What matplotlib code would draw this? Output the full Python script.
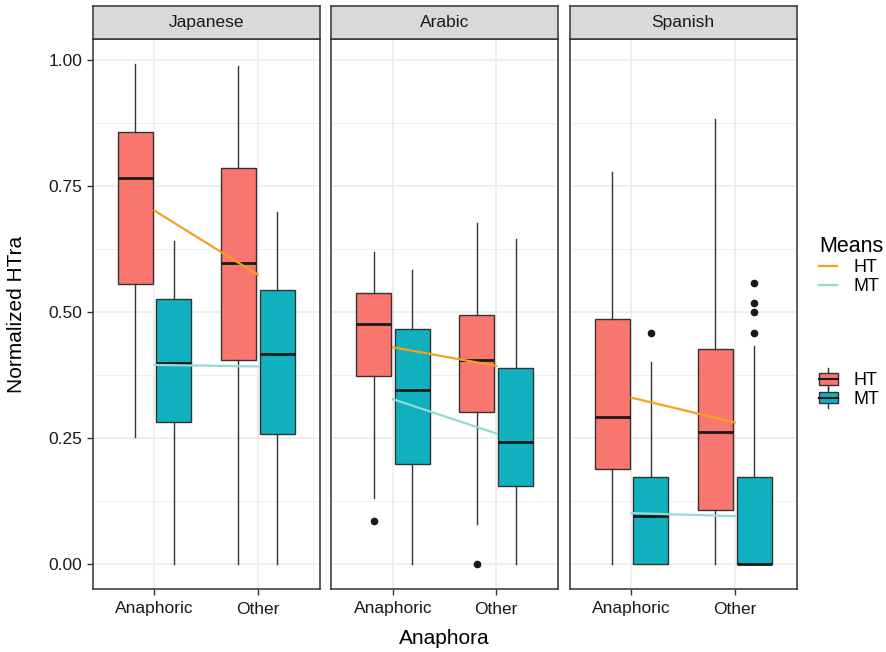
import matplotlib.pyplot as plt
from matplotlib.legend_handler import HandlerBase
from matplotlib.lines import Line2D
from matplotlib.patches import Rectangle, Patch

plt.rcParams['font.family'] = ['Liberation Sans', 'DejaVu Sans']

languages = ["Japanese", "Arabic", "Spanish"]
anaphora = ["Anaphoric", "Other"]
groups = ["HT", "MT"]

# five-number summaries per language: [whislo, q1, med, q3, whishi], order = HT-Anaphoric, MT-Anaphoric, HT-Other, MT-Other
stats_japanese = [[0.252, 0.556, 0.766, 0.858, 0.992],
                  [0.000, 0.282, 0.399, 0.525, 0.641],
                  [0.000, 0.404, 0.597, 0.786, 0.989],
                  [0.000, 0.257, 0.417, 0.543, 0.699]]
stats_arabic = [[0.130, 0.373, 0.477, 0.538, 0.620],
                [0.000, 0.198, 0.346, 0.467, 0.583],
                [0.080, 0.301, 0.404, 0.495, 0.677],
                [0.000, 0.155, 0.243, 0.389, 0.645]]
stats_spanish = [[0.000, 0.189, 0.291, 0.486, 0.778],
                 [0.000, 0.000, 0.095, 0.173, 0.400],
                 [0.000, 0.108, 0.261, 0.427, 0.883],
                 [0.000, 0.000, 0.000, 0.173, 0.432]]
outliers_japanese = [[], [], [], []]
outliers_arabic = [[0.085], [], [0.0], []]
outliers_spanish = [[], [0.458], [], [0.458, 0.500, 0.517, 0.558]]

means_ht = {"Japanese": [0.701, 0.574], "Arabic": [0.430, 0.393], "Spanish": [0.330, 0.281]}
means_mt = {"Japanese": [0.395, 0.392], "Arabic": [0.327, 0.259], "Spanish": [0.101, 0.095]}

all_stats = {"Japanese": stats_japanese, "Arabic": stats_arabic, "Spanish": stats_spanish}
all_out = {"Japanese": outliers_japanese, "Arabic": outliers_arabic, "Spanish": outliers_spanish}

box_colors = {"HT": "#F8766D", "MT": "#11B0BE"}
mean_colors = {"HT": "#F8A01E", "MT": "#93DCD6"}

fig = plt.figure(figsize=(8.86, 6.52), dpi=100)

W, H = 886, 652
left0, pw, gap = 92.5, 227.2, 238.5
top, bottom, strip_h = 39, 589, 33

for i, lang in enumerate(languages):
    x0 = left0 + i * gap
    ax = fig.add_axes([x0 / W, 1 - bottom / H, pw / W, (bottom - top) / H])
    ax.set_xlim(0.4, 2.6)
    ax.set_ylim(-0.0496, 1.0416)
    ax.set_yticks([0, 0.25, 0.5, 0.75, 1.0])
    ax.set_yticks([0.125, 0.375, 0.625, 0.875], minor=True)
    ax.grid(True, which="major", color="#EBEBEB", lw=1.1)
    ax.grid(True, which="minor", axis="y", color="#EBEBEB", lw=0.55)
    ax.set_axisbelow(True)
    for s in ax.spines.values():
        s.set_color("#333333")
        s.set_linewidth(1.1)

    stats = []
    positions = []
    colors = []
    k = 0
    for j, a in enumerate(anaphora):
        for g_i, g in enumerate(groups):
            lo, q1, med, q3, hi = all_stats[lang][k]
            stats.append(dict(whislo=lo, q1=q1, med=med, q3=q3, whishi=hi, fliers=all_out[lang][k]))
            positions.append(j + 1 + (g_i - 0.5) * 0.375)
            colors.append(box_colors[g])
            k += 1
    bp = ax.bxp(stats, positions=positions, widths=0.3375, patch_artist=True, showcaps=False,
                boxprops=dict(edgecolor="#333333", lw=1.0),
                whiskerprops=dict(color="#333333", lw=1.0),
                medianprops=dict(color="#1a1a1a", lw=2.0),
                flierprops=dict(marker="o", markerfacecolor="#1a1a1a", markeredgecolor="#1a1a1a", markersize=4.5))
    for patch, c in zip(bp["boxes"], colors):
        patch.set_facecolor(c)

    ax.plot([1, 2], means_ht[lang], color=mean_colors["HT"], lw=1.6, zorder=5)
    ax.plot([1, 2], means_mt[lang], color=mean_colors["MT"], lw=1.6, zorder=5)

    ax.set_xticks([1, 2])
    ax.set_xticklabels(anaphora)
    ax.tick_params(axis="both", labelsize=12.5, colors="#333333", labelcolor="#1a1a1a", length=4, width=1.0)
    ax.tick_params(axis="x", pad=5)
    ax.tick_params(axis="y", which="minor", length=0)
    if i == 0:
        ax.set_yticklabels(["0.00", "0.25", "0.50", "0.75", "1.00"])
        ax.set_ylabel("Normalized HTra", fontsize=15, labelpad=16)
    else:
        ax.tick_params(axis="y", left=False, labelleft=False)
    if i == 1:
        ax.set_xlabel("Anaphora", fontsize=15, labelpad=9)

    # facet strip
    sax = fig.add_axes([x0 / W, 1 - top / H, pw / W, strip_h / H])
    sax.set_xticks([])
    sax.set_yticks([])
    sax.set_facecolor("#D9D9D9")
    for s in sax.spines.values():
        s.set_color("#333333")
        s.set_linewidth(1.1)
    sax.text(0.5, 0.5, lang, ha="center", va="center", fontsize=12.5, color="#1a1a1a", transform=sax.transAxes)


class BoxKey(HandlerBase):
    def create_artists(self, legend, orig_handle, xdescent, ydescent, width, height, fontsize, trans):
        cx = width / 2 - xdescent
        bw = 14
        r = Rectangle((cx - bw / 2, -ydescent + height * 0.05), bw, height * 0.9,
                      facecolor=orig_handle.get_facecolor(), edgecolor="#333333", lw=1.0, transform=trans)
        m = Line2D([cx - bw / 2, cx + bw / 2], [-ydescent + height / 2] * 2, color="#1a1a1a", lw=1.5, transform=trans)
        w1 = Line2D([cx, cx], [-ydescent - 3, -ydescent + height * 0.05], color="#333333", lw=1.0, transform=trans)
        w2 = Line2D([cx, cx], [-ydescent + height * 0.95, -ydescent + height + 3], color="#333333", lw=1.0, transform=trans)
        return [w1, w2, r, m]


mean_handles = [Line2D([], [], color=mean_colors[g], lw=1.6) for g in groups]
leg1 = fig.legend(mean_handles, groups, title="Means", loc="upper left",
                  bbox_to_anchor=(803 / W, 1 - 220 / H), frameon=False, fontsize=13,
                  title_fontsize=15.5, handlelength=1.0, handletextpad=0.9, labelspacing=0.1,
                  alignment="left")
box_handles = [Patch(facecolor=box_colors[g]) for g in groups]
leg2 = fig.legend(box_handles, groups, loc="upper left", bbox_to_anchor=(803 / W, 1 - 356 / H),
                  frameon=False, fontsize=13, handlelength=1.0, handletextpad=0.9, labelspacing=0.1,
                  handler_map={Patch: BoxKey()})

fig.savefig("out.png", dpi=100)
